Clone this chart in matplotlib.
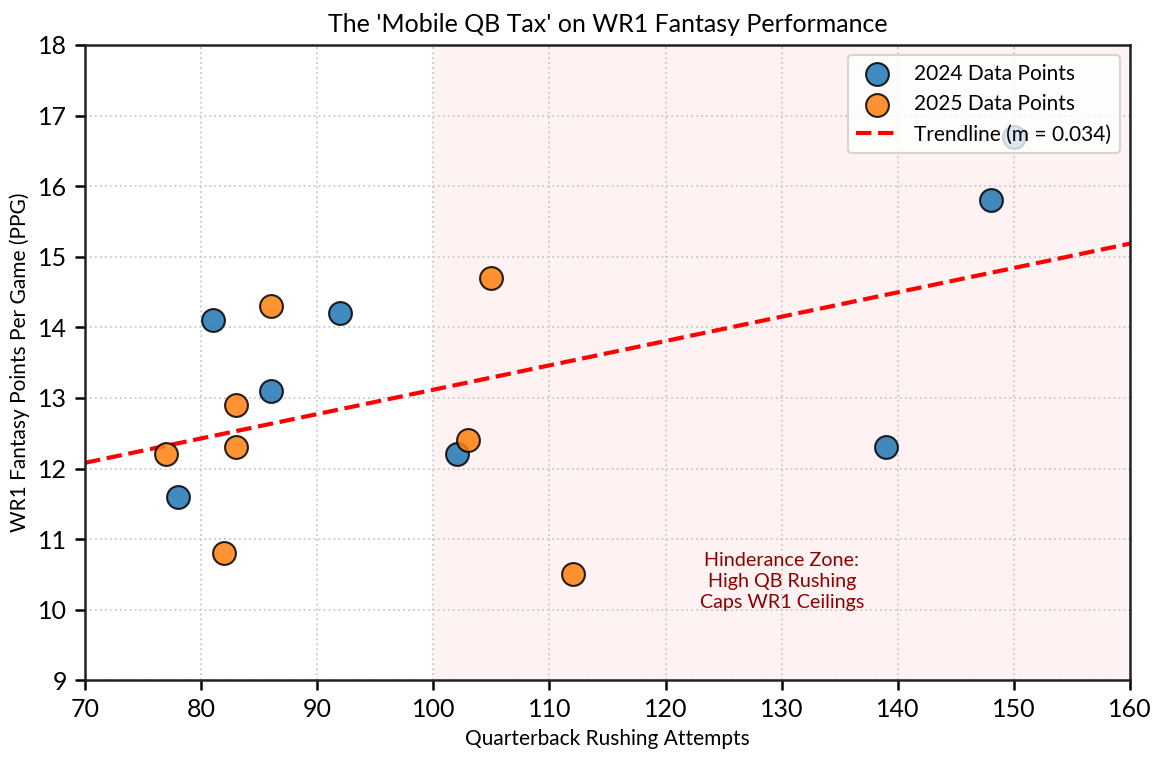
import numpy as np
import matplotlib
matplotlib.use("Agg")
import matplotlib.pyplot as plt

plt.rcParams['font.family'] = ['Lato', 'DejaVu Sans']

# data
x_2024 = [78, 81, 86, 92, 102, 139, 148, 150]
y_2024 = [11.6, 14.1, 13.1, 14.2, 12.2, 12.3, 15.8, 16.7]
x_2025 = [77, 82, 83, 83, 86, 103, 105, 112]
y_2025 = [12.2, 10.8, 12.9, 12.3, 14.3, 12.4, 14.7, 10.5]

x_all = np.array(x_2024 + x_2025)
y_all = np.array(y_2024 + y_2025)
m, b = np.polyfit(x_all, y_all, 1)

fig, ax = plt.subplots(figsize=(1165 / 150, 761 / 150), dpi=150)
fig.subplots_adjust(left=0.073, right=0.970, top=0.941, bottom=0.106)

ax.axvspan(100, 160, color='red', alpha=0.05, lw=0, zorder=0)

ax.scatter(x_2024, y_2024, s=120, color='tab:blue', alpha=0.85,
           edgecolors='black', linewidths=1.0, label='2024 Data Points', zorder=3)
ax.scatter(x_2025, y_2025, s=120, color='tab:orange', alpha=0.85,
           edgecolors='black', linewidths=1.0, label='2025 Data Points', zorder=3)

xs = np.array([70, 160])
ax.plot(xs, m * xs + b, color='red', ls='--', lw=2,
        label=f'Trendline (m = {m:.3f})', zorder=2)

ax.text(130, 10.4, 'Hinderance Zone:\nHigh QB Rushing\nCaps WR1 Ceilings',
        color='darkred', fontsize=9.5, ha='center', va='center', linespacing=1.3)

ax.set_xlim(70, 160)
ax.set_ylim(9, 18)
ax.set_xticks(np.arange(70, 161, 10))
ax.set_yticks(np.arange(9, 19, 1))
ax.tick_params(labelsize=12, width=1.2, length=5)
for s in ax.spines.values():
    s.set_linewidth(1.2)
    s.set_color('#222222')
ax.grid(True, ls=':', color='#cccccc', lw=0.9)
ax.set_axisbelow(True)

ax.set_title("The 'Mobile QB Tax' on WR1 Fantasy Performance", fontsize=12)
ax.set_xlabel('Quarterback Rushing Attempts', fontsize=10)
ax.set_ylabel('WR1 Fantasy Points Per Game (PPG)', fontsize=10)
ax.legend(loc='upper right', fontsize=10)

fig.savefig('out.png', dpi=150)
